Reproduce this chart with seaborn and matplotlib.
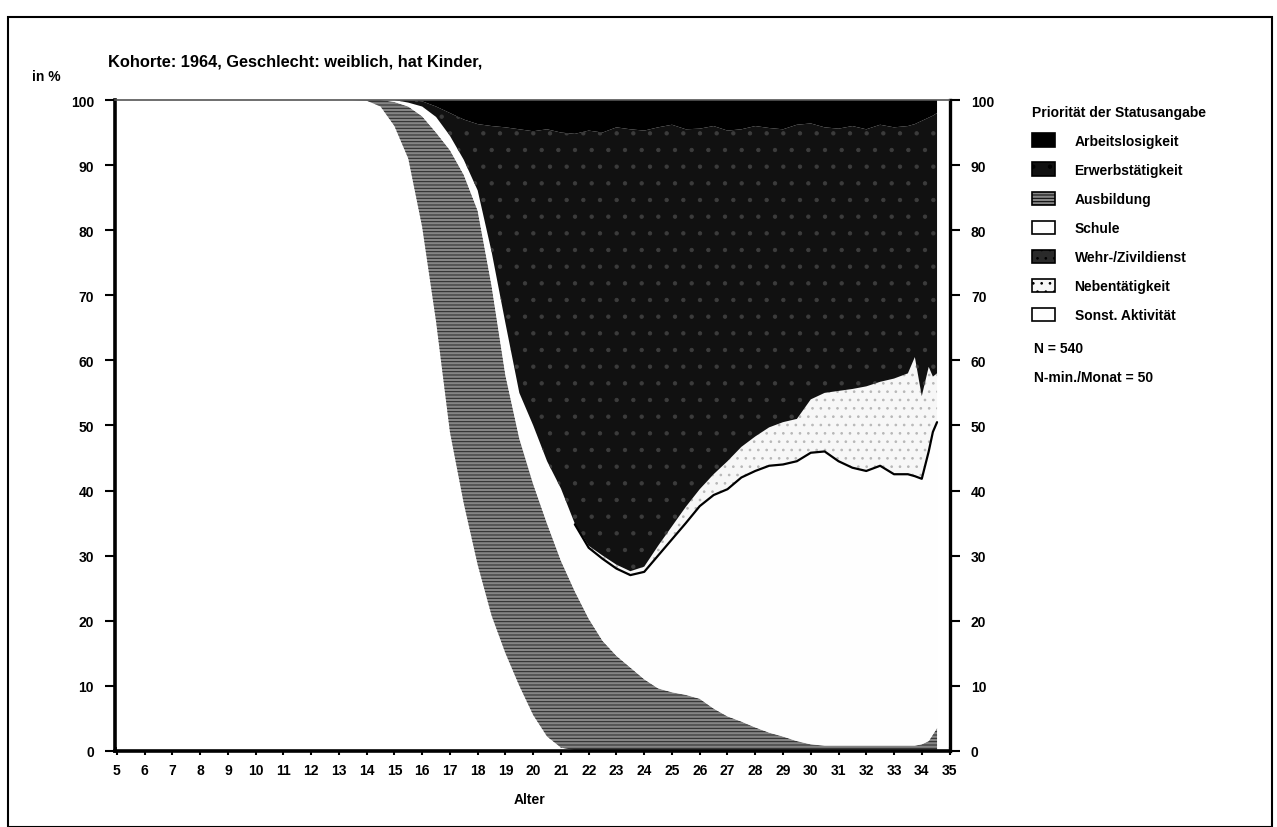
import numpy as np
import pandas as pd
import matplotlib
matplotlib.use("Agg")
import matplotlib.pyplot as plt
from matplotlib.patches import Patch, Rectangle
import seaborn as sns

# Alter in Jahren (Stützstellen)
ages = [5, 13.5, 14, 14.5, 15, 15.5, 16, 16.5, 17, 17.5, 18, 18.5, 19, 19.5,
        20, 20.5, 21, 21.5, 22, 22.5, 23, 23.5, 24, 24.5, 25, 25.5, 26, 26.5,
        27, 27.5, 28, 28.5, 29, 29.5, 30, 30.5, 31, 31.5, 32, 32.5, 33, 33.5,
        33.75, 34, 34.25, 34.4, 34.55]

# Anteile in % je Status
schule = [100, 100, 99.9, 99, 96, 91, 80.5, 66, 49, 38, 28.6, 20.8, 15, 10,
          5.5, 2.2, 0.5, 0.1, 0, 0, 0, 0, 0, 0, 0, 0, 0, 0,
          0, 0, 0, 0, 0, 0, 0, 0, 0, 0, 0, 0, 0, 0,
          0, 0, 0, 0, 0]
ausbildung = [0, 0, 0.1, 1, 3.7, 8, 17, 29, 43.3, 50.5, 54.4, 50.7, 42.7, 38,
              35.5, 32.7, 28.7, 24.4, 20.3, 16.9, 14.6, 12.8, 11, 9.6, 9, 8.6, 8, 6.5,
              5.3, 4.5, 3.6, 2.8, 2.2, 1.5, 1.0, 0.8, 0.8, 0.8, 0.8, 0.8, 0.8, 0.8,
              0.8, 1.0, 1.5, 2.5, 3.5]
sonst = [0, 0, 0, 0, 0.3, 0.6, 1.5, 2.4, 2.2, 2.3, 3.1, 5.2, 8.0, 7,
         9, 9.6, 11.1, 10.3, 10.9, 12.6, 13.4, 14.2, 16.5, 20.4, 23.5, 26.4, 29.6, 32.8,
         34.9, 37.5, 39.4, 41, 41.8, 43, 44.8, 45.2, 43.7, 42.7, 42.2, 43, 41.7, 41.7,
         41.4, 40.8, 44.5, 46.5, 47]
neben = [0, 0, 0, 0, 0, 0, 0, 0, 0, 0, 0, 0, 0, 0,
         0, 0, 0, 0.1, 0.3, 0.5, 0.6, 0.6, 0.8, 1.5, 2, 2.5, 2.6, 3.2,
         4.3, 4.7, 5.3, 5.9, 6.5, 6.5, 8.2, 9, 10.8, 12.1, 13, 12.9, 14.7, 15.5,
         18.3, 12.7, 13, 8.5, 7.5]
wehr = [0] * len(ages)
erwerb = [0, 0, 0, 0, 0, 0.4, 0.8, 1.6, 3.5, 6.2, 10.2, 19.3, 30.1, 40.5,
          45.2, 51, 54.7, 59.9, 63.8, 65, 67.2, 67.9, 67, 64.3, 61.7, 58, 55.4, 53.5,
          50.8, 48.8, 47.7, 46, 45, 45.2, 42.4, 40.8, 40.3, 40.4, 39.5, 39.5, 38.6, 38,
          35.8, 42.3, 38.3, 40.1, 40]
arbeitslos = [0, 0, 0, 0, 0, 0, 0.2, 1, 2, 3, 3.7, 4, 4.2, 4.5,
              4.8, 4.5, 5, 5.2, 4.7, 5, 4.2, 4.5, 4.7, 4.2, 3.8, 4.5, 4.4, 4,
              4.7, 4.5, 4, 4.3, 4.5, 3.8, 3.6, 4.2, 4.4, 4, 4.5, 3.8, 4.2, 4,
              3.7, 3.2, 2.7, 2.4, 2]

legend_labels = ["Arbeitslosigkeit", "Erwerbstätigkeit", "Ausbildung", "Schule",
                 "Wehr-/Zivildienst", "Nebentätigkeit", "Sonst. Aktivität"]
x_ticks = list(range(5, 36))
y_ticks = list(range(0, 101, 10))

sns.set_theme(style="white")
plt.rcParams['font.family'] = ['Liberation Sans Narrow', 'Liberation Sans', 'DejaVu Sans']
plt.rcParams['font.weight'] = 'bold'
plt.rcParams['text.color'] = 'black'
plt.rcParams['hatch.linewidth'] = 0.7

# Stil je Status: Füllfarbe, Schraffur, Schraffurfarbe
styles = {
    "Arbeitslosigkeit": ("#000000", "", "#000000"),
    "Erwerbstätigkeit": ("#111111", ".", "#3c3c3c"),
    "Ausbildung": ("#858585", "-----", "#262626"),
    "Schule": ("#ffffff", "", "#ffffff"),
    "Wehr-/Zivildienst": ("#2a2a2a", "..", "#555555"),
    "Nebentätigkeit": ("#f7f7f7", "..", "#b8b8b8"),
    "Sonst. Aktivität": ("#fefefe", "", "#fefefe"),
}

fig = plt.figure(figsize=(12.77, 8.28), dpi=100)
ax = fig.add_axes([0.090, 0.092, 0.654, 0.786])

order = ["Schule", "Ausbildung", "Sonst. Aktivität", "Nebentätigkeit",
         "Wehr-/Zivildienst", "Erwerbstätigkeit", "Arbeitslosigkeit"]
series = {"Schule": schule, "Ausbildung": ausbildung, "Sonst. Aktivität": sonst,
          "Nebentätigkeit": neben, "Wehr-/Zivildienst": wehr,
          "Erwerbstätigkeit": erwerb, "Arbeitslosigkeit": arbeitslos}

polys = ax.stackplot(ages, [series[k] for k in order],
                     colors=[styles[k][0] for k in order], linewidth=0)
for poly, k in zip(polys, order):
    poly.set_hatch(styles[k][1])
    poly.set_edgecolor(styles[k][2])
    poly.set_linewidth(0)

# Grenzlinie Sonst. Aktivität / Nebentätigkeit
df = pd.DataFrame({"Alter": ages, "grenze": np.cumsum([schule, ausbildung, sonst], axis=0)[-1]})
sns.lineplot(data=df[df["Alter"] >= 21.5], x="Alter", y="grenze", color="black",
             linewidth=1.6, ax=ax, legend=False)

ax.set_xlim(4.93, 35.02)
ax.set_ylim(0, 100)
ax.set_xticks(x_ticks)
ax.set_yticks(y_ticks)
ax.set_xlabel("")
ax.set_ylabel("")
ax.tick_params(axis="x", direction="inout", length=6, width=1.5, pad=6,
               labelsize=10, colors="black", bottom=True)
ax.tick_params(axis="y", direction="out", length=7, width=1.5, pad=8,
               labelsize=10, colors="black", left=True)
for side in ["left", "bottom"]:
    ax.spines[side].set_linewidth(2.6)
    ax.spines[side].set_color("black")
ax.spines["top"].set_linewidth(1.2)
ax.spines["top"].set_color("#555555")
ax.spines["right"].set_linewidth(2.4)
ax.spines["right"].set_color("black")

ax2 = ax.twinx()
ax2.set_ylim(0, 100)
ax2.set_yticks(y_ticks)
ax2.tick_params(axis="y", direction="out", length=7, width=1.5, pad=8,
                labelsize=10, colors="black", right=True)
for s in ax2.spines.values():
    s.set_visible(False)
ax2.grid(False)
for lab in ax.get_xticklabels() + ax.get_yticklabels() + ax2.get_yticklabels():
    lab.set_fontweight("bold")

fig.text(108 / 1277, 1 - 62 / 828, "Kohorte: 1964, Geschlecht: weiblich, hat Kinder,",
         fontsize=11.8, fontweight="bold", va="center", ha="left", color="black")
fig.text(32 / 1277, 1 - 77 / 828, "in %", fontsize=10, fontweight="bold", va="center", color="black")
fig.text(530 / 1277, 1 - 800 / 828, "Alter", fontsize=10, fontweight="bold",
         ha="center", va="center", color="black")

handles = [Patch(facecolor=styles[k][0], hatch=styles[k][1], edgecolor="black", linewidth=1.2)
           for k in legend_labels]
leg = fig.legend(handles, legend_labels, loc="upper left",
                 bbox_to_anchor=(1026 / 1277, 1 - 100 / 828), frameon=False,
                 title="Priorität der Statusangabe", alignment="left",
                 prop={"size": 10, "weight": "bold"},
                 title_fontproperties={"size": 10, "weight": "bold"},
                 handlelength=1.7, handleheight=1.1, labelspacing=1.06,
                 handletextpad=1.4, borderaxespad=0)
for t in leg.get_texts():
    t.set_color("black")
leg.get_title().set_color("black")
fig.text(1034 / 1277, 1 - 349 / 828, "N = 540", fontsize=10, fontweight="bold",
         va="center", color="black")
fig.text(1034 / 1277, 1 - 378 / 828, "N-min./Monat = 50", fontsize=10, fontweight="bold",
         va="center", color="black")

# Rahmen um die gesamte Abbildung
fig.patches.append(Rectangle((8 / 1277, 0), (1272 - 8) / 1277, 1 - 18 / 828,
                             transform=fig.transFigure, fill=False,
                             edgecolor="black", linewidth=1.5))

fig.savefig("out.png", dpi=100)
